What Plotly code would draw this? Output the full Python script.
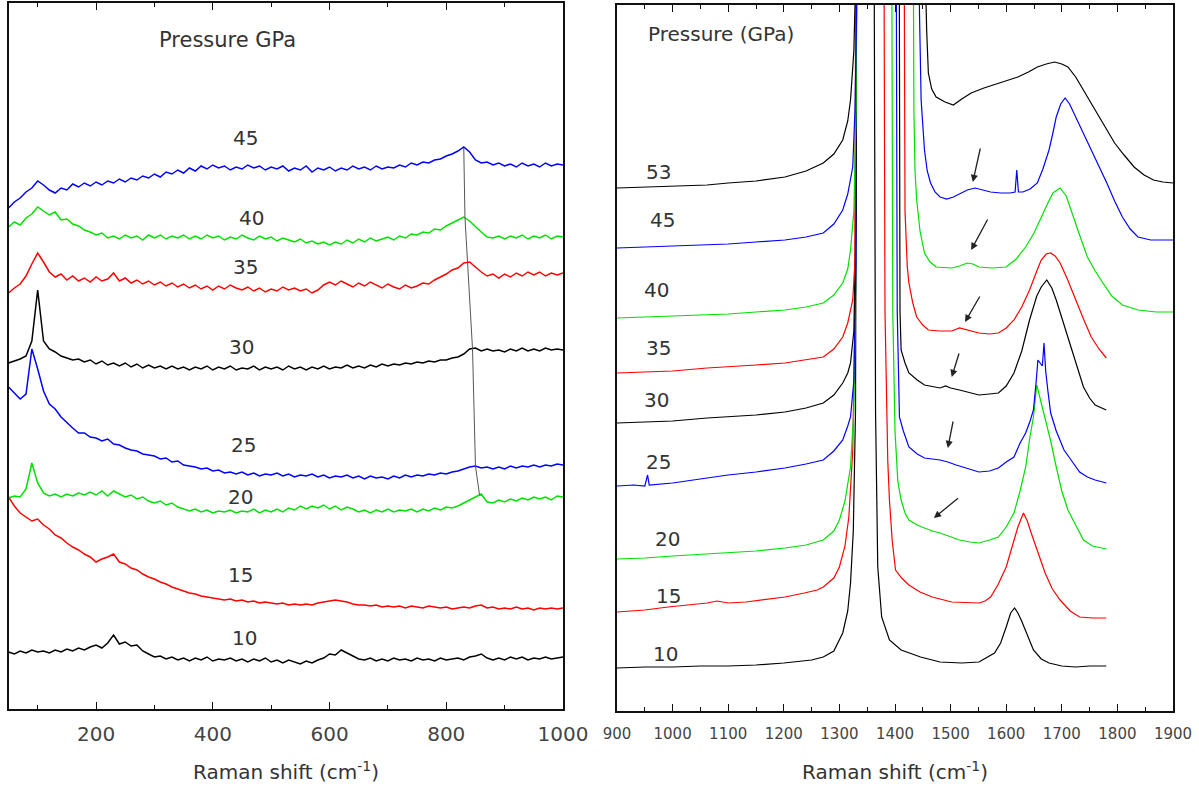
import plotly.graph_objects as go

# ---------------- Low-frequency panel (50-1000 cm-1) ----------------
LOW_SHIFT = list(range(50, 1001, 10))

LOW_10 = [57, 55, 58, 56, 59, 57, 58, 56, 59, 57,
          60, 58, 61, 59, 62, 64, 61, 66, 74, 65,
          67, 63, 64, 58, 55, 52, 53, 50, 52, 49,
          51, 48, 51, 49, 52, 48, 50, 49, 51, 48,
          50, 47, 50, 48, 51, 47, 49, 46, 49, 47,
          45, 48, 46, 49, 51, 55, 54, 59, 56, 53,
          50, 49, 51, 48, 50, 48, 51, 49, 50, 48,
          51, 49, 50, 48, 51, 49, 50, 51, 49, 52,
          53, 55, 51, 49, 51, 49, 52, 50, 52, 49,
          51, 50, 52, 50, 51, 52]
LOW_15 = [212, 203, 196, 192, 188, 190, 184, 180, 174, 171,
          166, 162, 159, 155, 152, 147, 150, 152, 155, 147,
          145, 141, 139, 135, 132, 130, 127, 125, 122, 120,
          118, 116, 115, 113, 112, 111, 110, 109, 110, 108,
          109, 107, 108, 106, 107, 106, 105, 106, 104, 105,
          104, 105, 104, 106, 107, 108, 109, 108, 107, 105,
          104, 104, 103, 104, 102, 103, 102, 103, 101, 103,
          102, 101, 103, 102, 101, 102, 100, 101, 102, 101,
          103, 104, 101, 102, 100, 101, 100, 102, 100, 101,
          99, 101, 100, 101, 100, 101]
LOW_20 = [211, 213, 212, 220, 246, 226, 216, 213, 215, 212,
          215, 213, 216, 214, 217, 214, 218, 213, 218, 215,
          212, 214, 210, 212, 208, 206, 208, 204, 206, 202,
          200, 198, 200, 197, 199, 196, 198, 197, 199, 196,
          198, 197, 200, 196, 199, 197, 200, 197, 201, 199,
          203, 200, 203, 201, 204, 200, 203, 199, 202, 200,
          197, 199, 196, 199, 197, 200, 197, 199, 198, 200,
          197, 200, 198, 201, 199, 202, 201, 203, 206, 209,
          212, 215, 207, 206, 209, 207, 210, 208, 211, 209,
          212, 210, 212, 209, 213, 212]
LOW_25 = [322, 316, 310, 315, 360, 340, 318, 305, 300, 292,
          286, 281, 276, 276, 272, 271, 268, 270, 265, 264,
          261, 259, 258, 255, 254, 253, 250, 251, 247, 248,
          244, 243, 242, 240, 241, 238, 239, 236, 237, 235,
          237, 234, 236, 233, 235, 234, 236, 233, 235, 232,
          234, 233, 235, 232, 234, 231, 233, 232, 234, 231,
          233, 230, 233, 231, 232, 230, 233, 231, 234, 232,
          234, 233, 235, 234, 236, 235, 237, 238, 240, 242,
          243, 241, 242, 240, 242, 240, 243, 241, 243, 242,
          244, 242, 244, 243, 245, 244]
LOW_30 = [346, 348, 350, 353, 368, 419, 368, 360, 357, 353,
          351, 349, 350, 347, 349, 345, 348, 344, 346, 343,
          346, 342, 345, 341, 344, 341, 343, 340, 343, 340,
          342, 339, 342, 340, 343, 339, 342, 340, 343, 339,
          341, 340, 343, 339, 342, 340, 342, 339, 343, 340,
          342, 339, 342, 340, 343, 340, 342, 341, 344, 341,
          343, 341, 344, 342, 345, 343, 345, 344, 346, 345,
          347, 346, 348, 347, 349, 349, 351, 352, 355, 360,
          361, 358, 360, 358, 359, 357, 360, 358, 361, 358,
          360, 358, 361, 359, 360, 359]
LOW_35 = [416, 421, 425, 433, 445, 456, 447, 437, 432, 435,
          429, 433, 428, 431, 427, 432, 428, 430, 436, 428,
          431, 426, 429, 425, 428, 424, 427, 423, 426, 422,
          425, 421, 424, 420, 423, 419, 423, 420, 424, 421,
          419, 422, 418, 421, 417, 420, 418, 422, 419, 421,
          418, 420, 416, 419, 424, 427, 424, 428, 425, 422,
          426, 423, 427, 424, 421, 425, 422, 420, 424, 421,
          423, 426, 425, 429, 432, 435, 439, 441, 446, 447,
          442, 437, 433, 435, 431, 435, 432, 436, 433, 437,
          434, 437, 433, 436, 434, 436]
LOW_40 = [482, 487, 484, 491, 495, 502, 498, 494, 497, 489,
          490, 485, 483, 479, 477, 474, 476, 471, 473, 470,
          474, 471, 473, 469, 474, 471, 474, 470, 473, 471,
          474, 470, 473, 470, 474, 471, 473, 469, 472, 470,
          474, 471, 469, 473, 470, 472, 468, 471, 469, 467,
          470, 466, 468, 465, 467, 464, 467, 465, 469, 466,
          470, 467, 471, 468, 470, 472, 469, 473, 471, 475,
          474, 477, 476, 480, 479, 483, 486, 489, 492, 488,
          482, 477, 472, 471, 473, 470, 473, 471, 474, 470,
          473, 471, 474, 470, 473, 472]
LOW_45 = [501, 507, 511, 517, 521, 528, 524, 519, 516, 521,
          519, 525, 522, 526, 523, 527, 524, 528, 526, 530,
          527, 531, 529, 533, 531, 535, 532, 537, 535, 539,
          536, 541, 538, 543, 540, 544, 541, 543, 539, 542,
          540, 544, 541, 543, 539, 542, 540, 543, 538, 541,
          539, 543, 537, 541, 539, 542, 538, 541, 539, 543,
          540, 542, 539, 543, 540, 542, 541, 544, 542, 546,
          544, 547, 546, 549, 550, 553, 555, 558, 562, 557,
          549, 546, 547, 544, 546, 543, 545, 542, 546, 543,
          545, 542, 546, 543, 545, 544]

# High-frequency band position of each low-panel spectrum (20 ... 45 GPa)
TRACK_SHIFT = [857, 850, 845, 837, 832, 830]
TRACK_I = [214, 243, 360, 447, 492, 561]

LOW_LABELS = ["10", "15", "20", "25", "30", "35", "40", "45"]
LOW_LABEL_X = [455, 448, 448, 452, 450, 456, 466, 456]
LOW_LABEL_Y = [71, 134, 212, 264, 362, 442, 491, 571]

# ---------------- High-frequency panel (900-1900 cm-1) ----------------
R10_X = [900, 950, 1000, 1050, 1100, 1150, 1200, 1250, 1271, 1290, 1306, 1315, 1320, 1325, 1329,
         1333, 1360, 1365, 1369, 1376, 1390, 1411, 1446, 1481, 1520, 1551, 1579, 1590, 1600, 1608,
         1615, 1621, 1627, 1638, 1649, 1663, 1677, 1700, 1725, 1750, 1780]
R10_I = [43, 44, 44, 45, 45, 46, 48, 51, 54, 60, 78, 100, 128, 180, 300,
         1200, 1200, 300, 144, 94, 71, 61, 54, 49, 48, 49, 58, 68, 84, 98,
         103, 98, 91, 75, 61, 52, 48, 45, 44, 45, 45]

R15_X = [900, 950, 992, 1030, 1062, 1080, 1100, 1132, 1170, 1202, 1237, 1260, 1271, 1290, 1300,
         1310, 1317, 1324, 1328, 1331, 1378, 1382, 1387, 1390, 1395, 1401, 1412, 1425, 1445, 1467,
         1502, 1530, 1551, 1562, 1572, 1585, 1600, 1611, 1621, 1631, 1638, 1645, 1657, 1670, 1683,
         1697, 1715, 1732, 1755, 1780]
R15_I = [99, 101, 104, 106, 108, 110, 108, 109, 112, 114, 118, 121, 124, 133, 144,
         165, 194, 260, 400, 1200, 1200, 400, 250, 211, 170, 141, 133, 126, 119, 114,
         109, 108, 108, 110, 114, 126, 144, 165, 184, 198, 190, 178, 158, 138, 122,
         111, 100, 94, 93, 93]

R20_X = [900, 950, 1000, 1062, 1100, 1150, 1202, 1240, 1271, 1290, 1300, 1310, 1320, 1326, 1330,
         1332, 1392, 1396, 1400, 1405, 1411, 1418, 1425, 1440, 1453, 1467, 1481, 1500, 1516, 1535,
         1551, 1570, 1586, 1600, 1614, 1625, 1635, 1643, 1649, 1655, 1662, 1670, 1680, 1690, 1700,
         1711, 1725, 1739, 1755, 1780]
R20_I = [152, 153, 155, 157, 158, 160, 163, 166, 171, 180, 191, 210, 244, 300, 450,
         1200, 1200, 400, 280, 230, 211, 198, 191, 186, 183, 180, 178, 174, 171, 169,
         168, 171, 174, 184, 198, 220, 244, 275, 294, 326, 310, 294, 270, 244, 220,
         201, 186, 171, 165, 162]

R25_X = [900, 930, 950, 955, 958, 1000, 1062, 1100, 1150, 1202, 1240, 1271, 1290, 1306, 1315,
         1320, 1326, 1330, 1332, 1400, 1404, 1408, 1415, 1425, 1440, 1453, 1481, 1495, 1510, 1523,
         1540, 1551, 1570, 1586, 1600, 1614, 1625, 1635, 1643, 1649, 1654, 1657, 1661, 1665, 1668,
         1671, 1675, 1680, 1690, 1704, 1718, 1732, 1746, 1760, 1780]
R25_I = [225, 226, 225, 236, 226, 228, 233, 236, 239, 243, 247, 251, 260, 271, 285,
         294, 330, 450, 1200, 1200, 400, 294, 280, 264, 257, 253, 251, 249, 246, 244,
         241, 239, 240, 243, 249, 254, 268, 278, 290, 301, 330, 351, 348, 345, 368,
         340, 320, 298, 280, 261, 250, 239, 234, 231, 228]

R30_X = [900, 950, 1000, 1062, 1100, 1150, 1202, 1240, 1271, 1290, 1306, 1315, 1320, 1326, 1330,
         1332, 1406, 1409, 1411, 1418, 1425, 1440, 1453, 1470, 1481, 1491, 1500, 1516, 1535, 1551,
         1570, 1586, 1600, 1614, 1628, 1642, 1655, 1663, 1673, 1682, 1690, 1704, 1718, 1730, 1739,
         1750, 1760, 1780]
R30_I = [288, 289, 290, 293, 294, 296, 299, 303, 308, 316, 328, 338, 348, 380, 500,
         1200, 1200, 400, 361, 348, 338, 331, 326, 324, 323, 325, 323, 321, 318, 316,
         317, 318, 325, 338, 360, 391, 415, 424, 431, 423, 411, 386, 361, 340, 324,
         313, 306, 301]

R35_X = [900, 950, 1000, 1062, 1100, 1150, 1202, 1240, 1271, 1290, 1306, 1315, 1324, 1328, 1331,
         1333, 1414, 1418, 1422, 1425, 1432, 1439, 1450, 1460, 1480, 1502, 1516, 1530, 1551, 1570,
         1586, 1600, 1614, 1628, 1642, 1655, 1663, 1672, 1680, 1688, 1697, 1710, 1725, 1739, 1753,
         1767, 1780]
R35_I = [338, 339, 340, 343, 344, 346, 348, 351, 354, 362, 374, 388, 411, 450, 600,
         1200, 1200, 500, 445, 428, 408, 394, 386, 381, 380, 380, 383, 381, 378, 377,
         378, 383, 391, 404, 421, 440, 451, 457, 458, 455, 448, 432, 411, 392, 374,
         362, 353]

R40_X = [900, 950, 1000, 1062, 1100, 1150, 1202, 1240, 1271, 1290, 1306, 1315, 1320, 1326, 1330,
         1332, 1430, 1434, 1436, 1439, 1445, 1453, 1463, 1474, 1490, 1502, 1516, 1530, 1540, 1551,
         1575, 1600, 1618, 1635, 1650, 1663, 1675, 1684, 1697, 1708, 1718, 1732, 1746, 1760, 1774,
         1790, 1809, 1837, 1870, 1900]
R40_I = [393, 394, 395, 396, 397, 399, 401, 404, 408, 416, 428, 442, 461, 500, 600,
         1200, 1200, 600, 540, 511, 480, 458, 449, 444, 443, 443, 445, 448, 447, 444,
         443, 444, 452, 464, 478, 494, 508, 518, 523, 515, 498, 476, 454, 440, 428,
         415, 406, 401, 399, 399]

R45_X = [900, 950, 1000, 1062, 1100, 1150, 1202, 1240, 1271, 1290, 1306, 1315, 1324, 1328, 1331,
         1333, 1440, 1444, 1447, 1453, 1458, 1464, 1472, 1481, 1493, 1505, 1518, 1530, 1544, 1558,
         1572, 1590, 1607, 1616, 1619, 1622, 1630, 1643, 1656, 1666, 1677, 1684, 1690, 1698, 1706,
         1714, 1725, 1739, 1753, 1767, 1781, 1795, 1809, 1823, 1837, 1860, 1900]
R45_I = [463, 464, 465, 466, 467, 469, 471, 474, 478, 487, 501, 517, 544, 600, 700,
         1200, 1200, 700, 611, 561, 540, 528, 519, 514, 512, 514, 518, 521, 523, 521,
         519, 518, 518, 519, 541, 519, 519, 522, 528, 542, 561, 578, 594, 607, 613,
         607, 594, 578, 561, 544, 528, 510, 494, 482, 474, 471, 471]

R53_X = [900, 950, 1000, 1062, 1100, 1150, 1202, 1240, 1271, 1290, 1306, 1315, 1320, 1326, 1330,
         1332, 1450, 1454, 1457, 1460, 1466, 1474, 1490, 1505, 1520, 1537, 1560, 1586, 1605, 1621,
         1640, 1656, 1672, 1687, 1700, 1711, 1725, 1739, 1753, 1767, 1781, 1795, 1812, 1830, 1848,
         1865, 1882, 1900]
R53_I = [523, 524, 525, 526, 528, 530, 534, 540, 548, 557, 571, 590, 611, 660, 750,
         1200, 1200, 750, 680, 638, 622, 614, 609, 606, 612, 618, 623, 628, 631, 634,
         639, 644, 647, 649, 647, 644, 634, 621, 607, 594, 581, 568, 556, 544, 536,
         531, 529, 528]

HIGH_LABELS = ["10", "15", "20", "25", "30", "35", "40", "45", "53"]
HIGH_LABEL_X = [987, 992, 990, 975, 971, 975, 971, 982, 975]
HIGH_LABEL_Y = [57, 115, 172, 249, 311, 363, 421, 491, 539]

# Arrows marking the weak shoulder (tail -> head), 20 ... 45 GPa
ARROW_TAIL_X = [1516, 1505, 1516, 1554, 1568, 1554]
ARROW_TAIL_Y = [214, 291, 359, 416, 493, 564]
ARROW_HEAD_X = [1470, 1495, 1502, 1526, 1537, 1540]
ARROW_HEAD_Y = [193, 263, 334, 389, 461, 529]

COLOR = {"10": "#000000", "15": "#ff0000", "20": "#00e000", "25": "#0000ff",
         "30": "#000000", "35": "#ff0000", "40": "#00e000", "45": "#0000ff",
         "53": "#000000"}

FONT = "DejaVu Sans"
TEXT_COLOR = "#333333"
W, H = 1199, 788

fig = go.Figure()

low_series = [LOW_10, LOW_15, LOW_20, LOW_25, LOW_30, LOW_35, LOW_40, LOW_45]
for name, ys in zip(LOW_LABELS, low_series):
    fig.add_trace(go.Scatter(x=LOW_SHIFT, y=ys, mode="lines", name=name + " GPa",
                             line=dict(color=COLOR[name], width=1.5),
                             xaxis="x", yaxis="y"))

fig.add_trace(go.Scatter(x=TRACK_SHIFT, y=TRACK_I, mode="lines",
                         line=dict(color="#555555", width=1), xaxis="x", yaxis="y"))

high_series = [(R10_X, R10_I), (R15_X, R15_I), (R20_X, R20_I), (R25_X, R25_I),
               (R30_X, R30_I), (R35_X, R35_I), (R40_X, R40_I), (R45_X, R45_I),
               (R53_X, R53_I)]
for name, (xs, ys) in zip(HIGH_LABELS, high_series):
    fig.add_trace(go.Scatter(x=xs, y=ys, mode="lines", name=name + " GPa",
                             line=dict(color=COLOR[name], width=1.2),
                             xaxis="x2", yaxis="y2"))

annotations = []
for t, x, y in zip(LOW_LABELS, LOW_LABEL_X, LOW_LABEL_Y):
    annotations.append(dict(x=x, y=y, xref="x", yref="y", text=t, showarrow=False,
                            xanchor="center", yanchor="middle",
                            font=dict(family=FONT, size=20, color=TEXT_COLOR)))
for t, x, y in zip(HIGH_LABELS, HIGH_LABEL_X, HIGH_LABEL_Y):
    annotations.append(dict(x=x, y=y, xref="x2", yref="y2", text=t, showarrow=False,
                            xanchor="center", yanchor="middle",
                            font=dict(family=FONT, size=20, color=TEXT_COLOR)))
for tx, ty, hx, hy in zip(ARROW_TAIL_X, ARROW_TAIL_Y, ARROW_HEAD_X, ARROW_HEAD_Y):
    annotations.append(dict(x=hx, y=hy, ax=tx, ay=ty, xref="x2", yref="y2",
                            axref="x2", ayref="y2", text="", showarrow=True,
                            arrowhead=2, arrowsize=1.1, arrowwidth=1.3,
                            arrowcolor="#222222"))


def paper_text(text, px, py, size):
    return dict(x=px / W, y=1 - py / H, xref="paper", yref="paper", text=text,
                showarrow=False, xanchor="center", yanchor="middle",
                font=dict(family=FONT, size=size, color=TEXT_COLOR))


annotations += [
    paper_text("Pressure GPa", 227, 40, 21),
    paper_text("Pressure (GPa)", 721, 34, 20),
    paper_text("Raman shift (cm<sup>-1</sup>)", 285.5, 771, 20),
    paper_text("Raman shift (cm<sup>-1</sup>)", 895, 771, 20),
]

axis_common = dict(showline=True, linecolor="#111111", linewidth=1.6, mirror="ticks",
                   ticks="inside", ticklen=7, tickwidth=1.4, tickcolor="#111111",
                   showgrid=False, zeroline=False, automargin=False)
yaxis_common = dict(range=[0, 706], showticklabels=False, showline=True,
                    linecolor="#111111", linewidth=1.6, mirror=True, ticks="",
                    showgrid=False, zeroline=False, automargin=False)

fig.update_layout(
    width=W, height=H,
    margin=dict(l=0, r=0, t=0, b=0, pad=0, autoexpand=False),
    paper_bgcolor="white", plot_bgcolor="white",
    showlegend=False,
    annotations=annotations,
    xaxis=dict(domain=[8.5 / W, 563 / W], range=[50, 1000], tick0=0, dtick=200,
               minor=dict(dtick=100, ticks="inside", ticklen=4, tickcolor="#111111"),
               tickfont=dict(family=FONT, size=20, color="#444444"),
               ticklabelstandoff=6, anchor="y", **axis_common),
    yaxis=dict(domain=[1 - 709 / H, 1 - 3 / H], anchor="x", **yaxis_common),
    xaxis2=dict(domain=[617 / W, 1173 / W], range=[900, 1900], tick0=0, dtick=100,
                minor=dict(dtick=50, ticks="inside", ticklen=4, tickcolor="#111111"),
                tickfont=dict(family=FONT, size=15, color="#444444"),
                ticklabelstandoff=8, anchor="y2", **axis_common),
    yaxis2=dict(domain=[1 - 711 / H, 1 - 5 / H], anchor="x2", **yaxis_common),
)

fig.write_html("out.html")
